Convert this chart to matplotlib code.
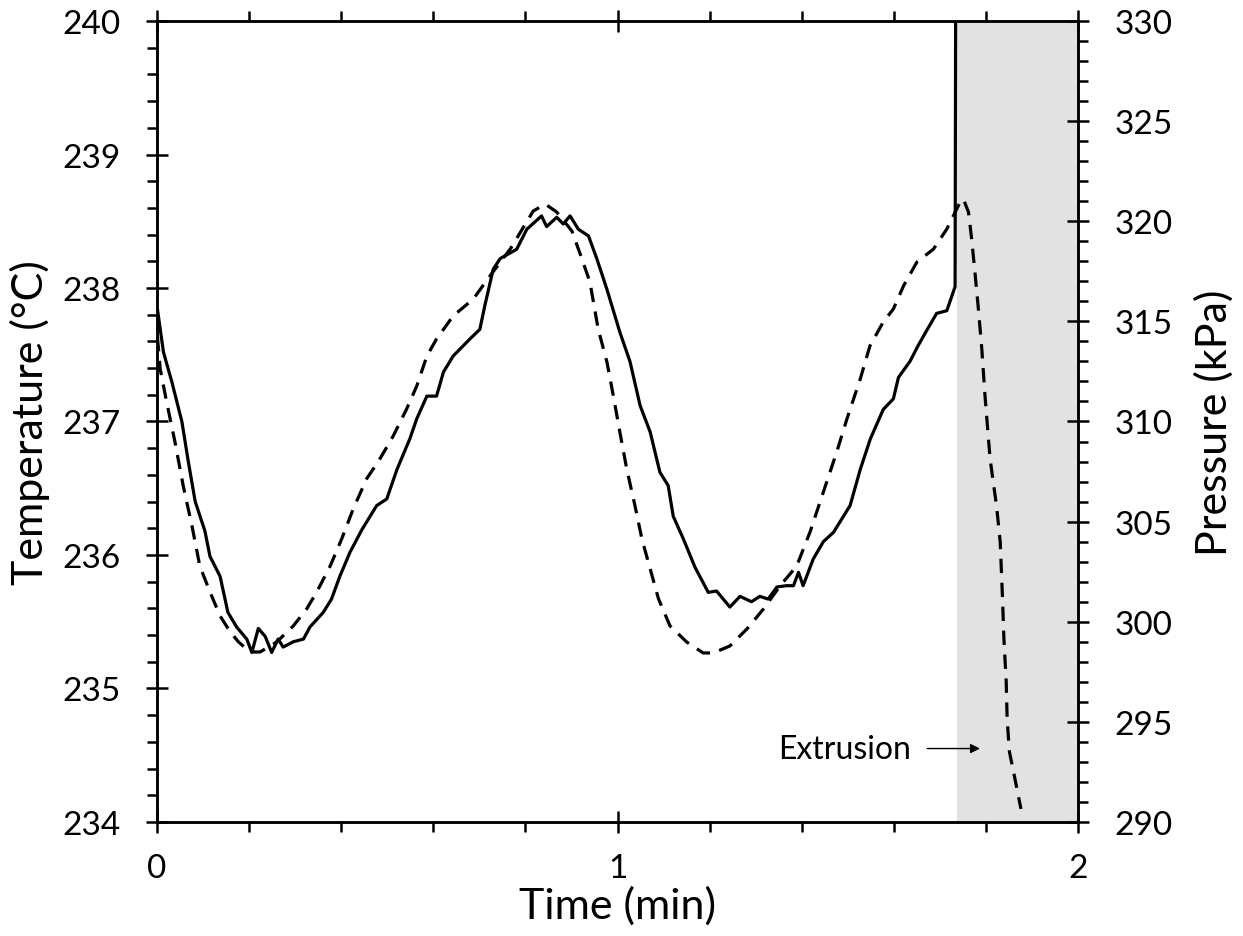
import matplotlib.pyplot as plt
from matplotlib.ticker import MultipleLocator

plt.rcParams['font.family'] = ['Lato', 'DejaVu Sans']

# temperature trace (solid), time in min
t_temp = [0.001, 0.014, 0.032, 0.054, 0.068, 0.083, 0.104, 0.115, 0.137, 0.154,
          0.173, 0.195, 0.206, 0.220, 0.235, 0.249, 0.263, 0.274, 0.296, 0.318,
          0.332, 0.361, 0.379, 0.397, 0.419, 0.445, 0.477, 0.499, 0.521, 0.549,
          0.564, 0.586, 0.607, 0.622, 0.643, 0.680, 0.701, 0.712, 0.730, 0.745,
          0.781, 0.803, 0.835, 0.846, 0.868, 0.882, 0.897, 0.915, 0.937, 0.955,
          0.977, 1.005, 1.027, 1.049, 1.071, 1.092, 1.110, 1.121, 1.143, 1.168,
          1.197, 1.215, 1.244, 1.266, 1.291, 1.309, 1.327, 1.346, 1.367, 1.382,
          1.393, 1.403, 1.425, 1.447, 1.469, 1.505, 1.527, 1.549, 1.577, 1.599,
          1.610, 1.635, 1.653, 1.671, 1.693, 1.715, 1.733, 1.737]
temp = [237.84, 237.52, 237.30, 237.00, 236.70, 236.40, 236.18, 235.99, 235.84, 235.57,
        235.46, 235.37, 235.27, 235.45, 235.39, 235.27, 235.37, 235.31, 235.35, 235.37,
        235.46, 235.57, 235.67, 235.84, 236.02, 236.19, 236.37, 236.42, 236.64, 236.87,
        237.02, 237.19, 237.19, 237.37, 237.49, 237.62, 237.69, 237.87, 238.14, 238.22,
        238.29, 238.44, 238.54, 238.46, 238.53, 238.48, 238.54, 238.44, 238.39, 238.22,
        237.99, 237.67, 237.45, 237.12, 236.92, 236.62, 236.52, 236.29, 236.12, 235.91,
        235.72, 235.73, 235.61, 235.69, 235.65, 235.69, 235.67, 235.76, 235.77, 235.77,
        235.87, 235.77, 235.97, 236.10, 236.17, 236.37, 236.64, 236.87, 237.09, 237.17,
        237.33, 237.45, 237.57, 237.68, 237.81, 237.83, 238.01, 245.0]

# pressure trace (dashed)
t_pres = [0.001, 0.007, 0.021, 0.039, 0.057, 0.076, 0.093, 0.115, 0.137, 0.159,
          0.177, 0.202, 0.224, 0.260, 0.296, 0.325, 0.347, 0.376, 0.401, 0.426,
          0.455, 0.484, 0.513, 0.542, 0.564, 0.586, 0.607, 0.643, 0.687, 0.723,
          0.767, 0.817, 0.843, 0.868, 0.901, 0.919, 0.940, 0.958, 0.977, 0.991,
          1.005, 1.020, 1.038, 1.053, 1.071, 1.089, 1.114, 1.150, 1.186, 1.208,
          1.244, 1.281, 1.317, 1.353, 1.389, 1.418, 1.447, 1.476, 1.498, 1.527,
          1.548, 1.577, 1.599, 1.621, 1.650, 1.686, 1.715, 1.744, 1.751, 1.762,
          1.769, 1.776, 1.783, 1.791, 1.798, 1.809, 1.823, 1.831, 1.836, 1.839,
          1.844, 1.846, 1.851, 1.863, 1.876]
pres = [314.22, 312.62, 310.97, 308.98, 306.78, 304.78, 302.78, 301.49, 300.29, 299.49,
        298.99, 298.49, 298.49, 298.99, 299.79, 300.64, 301.49, 302.78, 304.13, 305.63,
        307.13, 308.13, 309.28, 310.62, 311.77, 313.27, 314.12, 315.27, 316.12, 317.27,
        318.61, 320.51, 320.86, 320.46, 319.51, 318.36, 316.97, 314.62, 312.97, 311.27,
        309.48, 307.63, 305.78, 304.13, 302.63, 301.14, 299.79, 298.99, 298.44, 298.44,
        298.79, 299.64, 300.64, 301.79, 302.78, 304.48, 306.48, 308.48, 310.12, 312.12,
        313.77, 314.97, 315.62, 316.77, 317.96, 318.61, 319.61, 320.96, 321.11, 320.46,
        319.11, 317.47, 315.77, 313.62, 311.27, 308.13, 305.78, 303.98, 301.14, 299.14,
        296.99, 295.14, 293.50, 292.15, 290.65]

extrusion_start = 1.738

fig = plt.figure(figsize=(12.43, 9.37), dpi=100)
ax = fig.add_axes([0.1263, 0.1217, 0.741, 0.8548])
ax2 = ax.twinx()

ax.axvspan(extrusion_start, 2, color='#e2e2e2', lw=0, zorder=0)
ax.plot(t_temp, temp, color='black', lw=2.3)
ax2.plot(t_pres, pres, color='black', lw=2.3, dashes=(4.5, 3))

ax.set_xlim(0, 2)
ax.set_ylim(234, 240)
ax2.set_ylim(290, 330)

ax.xaxis.set_major_locator(MultipleLocator(1))
ax.xaxis.set_minor_locator(MultipleLocator(0.2))
ax.yaxis.set_major_locator(MultipleLocator(1))
ax.yaxis.set_minor_locator(MultipleLocator(0.2))
ax2.yaxis.set_major_locator(MultipleLocator(5))
ax2.yaxis.set_minor_locator(MultipleLocator(1))

for a in (ax, ax2):
    for s in a.spines.values():
        s.set_linewidth(1.8)
ax.tick_params(which='major', direction='inout', length=16, width=1.8,
               labelsize=24, top=True, pad=18)
ax.tick_params(which='minor', direction='out', length=7, width=1.8, top=True)
ax.tick_params(axis='x', which='major', pad=14)
ax2.tick_params(which='major', direction='inout', length=16, width=1.8,
                labelsize=24, pad=18)
ax2.tick_params(which='minor', direction='out', length=7, width=1.8)

ax.set_xlabel('Time (min)', fontsize=31, labelpad=2)
ax.set_ylabel('Temperature (°C)', fontsize=31, labelpad=9)
ax2.set_ylabel('Pressure (kPa)', fontsize=31, labelpad=16)

ax.annotate('Extrusion', xy=(1.787, 234.55), xytext=(1.492, 234.55),
            fontsize=23, ha='center', va='center',
            arrowprops=dict(arrowstyle='-|>', color='black', lw=1,
                            mutation_scale=14, shrinkA=10, shrinkB=0))

fig.savefig('out.png', dpi=100)
